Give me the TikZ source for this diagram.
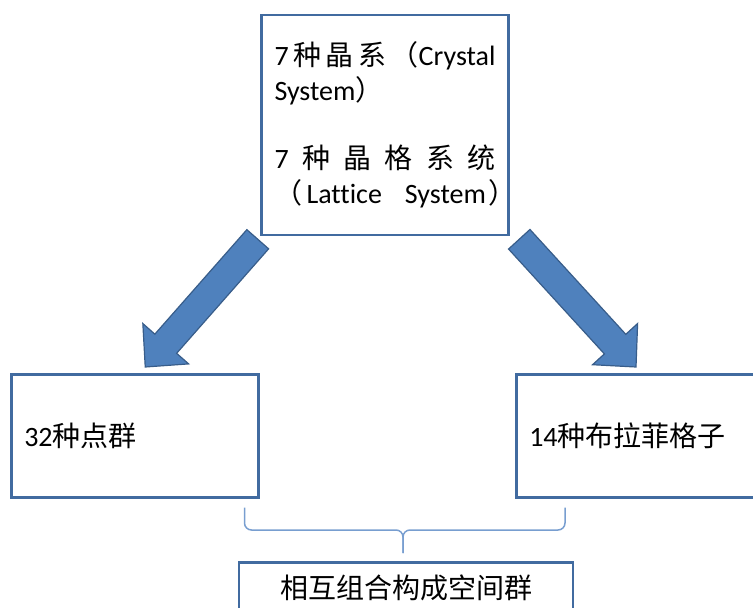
\documentclass[tikz,border=0pt]{standalone}
\usepackage{fontspec}
\setmainfont{Carlito}[Ligatures=CommonOff]
\newfontfamily\cjk{Noto Sans CJK SC}
\usetikzlibrary{calc,positioning}
\definecolor{boxline}{RGB}{65,107,160}
\definecolor{arrowfill}{RGB}{79,129,189}
\definecolor{arrowline}{RGB}{56,93,138}
\definecolor{braceline}{RGB}{120,158,208}
\tikzset{
  box/.style={
    rectangle,
    draw=boxline,
    line width=2.5pt,
    fill=white,
    inner xsep=13pt,
    inner ysep=0pt,
    font=\fontsize{28}{35}\selectfont
  },
  sidebox/.style={
    box,
    align=left,
    minimum height=123pt
  },
  bigarrow/.style={
    fill=arrowfill,
    draw=arrowline,
    line width=1.2pt,
    line join=miter
  },
  bracket/.style={
    draw=braceline,
    line width=1.5pt,
    rounded corners=7pt
  }
}
\newcommand{\blockarrow}[2]{%
  \coordinate (#1h) at ($(#2)!31pt!(#1)$);
  \draw[bigarrow] ($(#1)!14.5pt!90:(#2)$) -- ($(#1h)!14.5pt!90:(#2)$)
    -- ($(#1h)!30.5pt!90:(#2)$) -- (#2) -- ($(#1h)!30.5pt!-90:(#2)$)
    -- ($(#1h)!14.5pt!-90:(#2)$) -- ($(#1)!14.5pt!-90:(#2)$) -- cycle;
}

\begin{document}
\begin{tikzpicture}[x=1pt, y=-1pt]
  \useasboundingbox (0,0) rectangle (753,608);

  \node[box, align=left, text width=221pt, minimum height=220pt] (crystal) at (385,125) {%
    \makebox[\linewidth][s]{7\hfill{\cjk 种}\hfill{\cjk 晶}\hfill{\cjk 系}\hfill{\cjk （}Crystal}\\
    System{\cjk ）}\\[33pt]
    \makebox[\linewidth][s]{7\hfill{\cjk 种}\hfill{\cjk 晶}\hfill{\cjk 格}\hfill{\cjk 系}\hfill{\cjk 统}}\\
    \makebox[\linewidth][l]{{\cjk （}\hspace{4pt}Lattice\hspace{23pt}System\hspace{3pt}{\cjk ）}}};
  \node[sidebox, text width=221pt, anchor=north west] (pointgrp) at (10,373) {32{\cjk 种点群}};
  \node[sidebox, text width=250pt, anchor=north west] (bravais) at (515,373) {14{\cjk 种布拉菲格子}};
  \node[box, minimum width=334pt, minimum height=52pt, anchor=north] (spacegrp) at (406,561) {\cjk 相互组合构成空间群};

  % block arrows
  \coordinate (lTail) at ([shift={(-2.5,3)}]crystal.south west);
  \coordinate (lTip) at ([shift={(10.5,-6)}]pointgrp.north);
  \coordinate (rTail) at ([shift={(9.5,3)}]crystal.south east);
  \coordinate (rTip) at ([shift={(121,-6)}]bravais.north west);
  \blockarrow{lTail}{lTip}
  \blockarrow{rTail}{rTip}

  % brace
  \coordinate (braceL) at ([shift={(-15,9)}]pointgrp.south east);
  \coordinate (braceR) at ([shift={(50,9)}]bravais.south west);
  \coordinate (braceTip) at ([shift={(-3,-8)}]spacegrp.north);
  \coordinate (braceMid) at ($(braceTip)+(0,-23)$);
  \draw[bracket] (braceL) |- (braceMid) -- (braceTip);
  \draw[bracket] (braceR) |- (braceMid) -- (braceTip);
\end{tikzpicture}
\end{document}
